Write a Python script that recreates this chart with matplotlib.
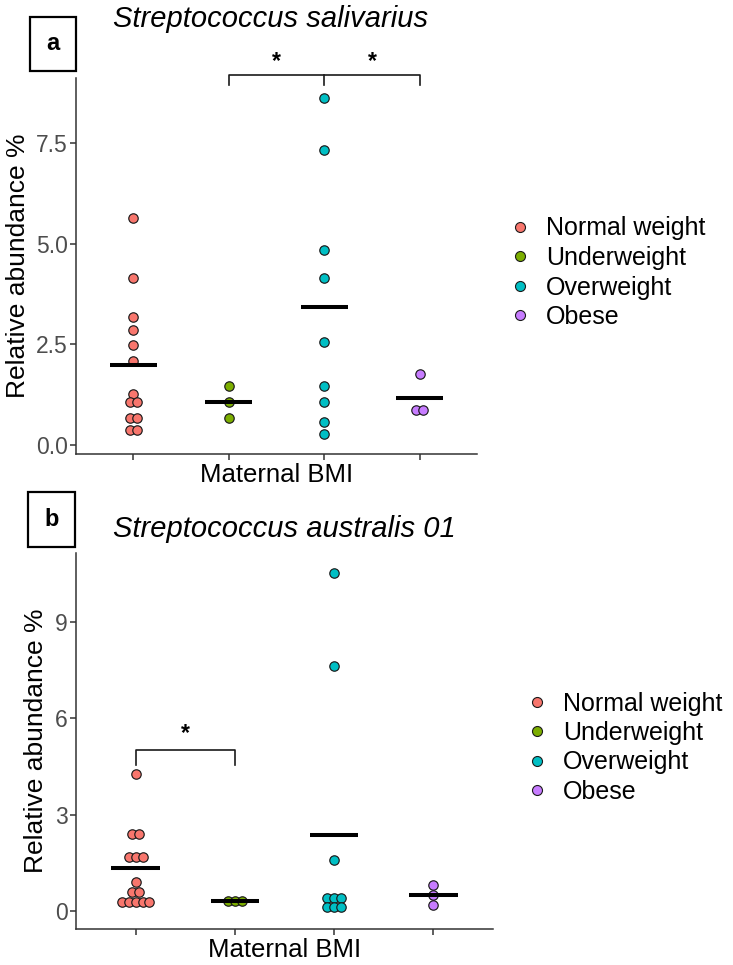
import matplotlib
matplotlib.use("Agg")
import matplotlib.pyplot as plt
from matplotlib.lines import Line2D
from matplotlib.patches import Rectangle
import numpy as np

plt.rcParams['font.family'] = ['Liberation Sans', 'DejaVu Sans']

W, H = 733, 965

groups = ["Normal weight", "Underweight", "Overweight", "Obese"]
colors = ["#F8766D", "#7CAE00", "#00BFC4", "#C77CFF"]

# panel a - Streptococcus salivarius (relative abundance %)
sal_normal = [5.65, 4.16, 3.17, 2.86, 2.48, 2.09, 1.27, 1.08, 1.08, 0.68, 0.68, 0.37, 0.37]
sal_under = [1.47, 1.08, 0.68]
sal_over = [8.62, 7.33, 4.85, 4.16, 2.56, 1.47, 1.08, 0.58, 0.28]
sal_obese = [1.77, 0.88, 0.88]
sal_means = [2.0, 1.08, 3.44, 1.18]
sal_ticks = [0, 2.5, 5, 7.5]
sal_ticklabels = ["0.0", "2.5", "5.0", "7.5"]

# panel b - Streptococcus australis 01
aus_normal = [4.27, 2.38, 2.38, 1.68, 1.68, 1.68, 0.88, 0.58, 0.58,
              0.28, 0.28, 0.28, 0.28, 0.28]
aus_under = [0.29, 0.29, 0.29]
aus_over = [10.53, 7.65, 1.58, 0.39, 0.39, 0.39, 0.11, 0.11, 0.11]
aus_obese = [0.79, 0.49, 0.19]
aus_means = [1.34, 0.31, 2.35, 0.48]
aus_ticks = [0, 3, 6, 9]
aus_ticklabels = ["0", "3", "6", "9"]


def swarm_x(vals, pos, step=0.07):
    # spread equal values side by side, like a beeswarm
    vals = np.asarray(vals, dtype=float)
    xs = np.full(len(vals), float(pos))
    for v in np.unique(vals):
        idx = np.where(np.isclose(vals, v))[0]
        xs[idx] = pos + (np.arange(len(idx)) - (len(idx) - 1) / 2) * step
    return xs


def draw_panel(ax, data, means, ylim, ticks, ticklabels, title, title_y):
    for i, (vals, col) in enumerate(zip(data, colors)):
        x = swarm_x(vals, i + 1)
        ax.scatter(x, vals, s=46, c=col, edgecolors="#1a1a1a", linewidths=0.85, zorder=3)
        ax.hlines(means[i], i + 1 - 0.245, i + 1 + 0.245, color="black", lw=2.9, zorder=4)
    ax.set_xlim(0.4, 4.6)
    ax.set_ylim(*ylim)
    ax.set_xticks([1, 2, 3, 4])
    ax.set_xticklabels([])
    ax.set_yticks(ticks)
    ax.set_yticklabels(ticklabels)
    for s in ["top", "right"]:
        ax.spines[s].set_visible(False)
    for s in ["left", "bottom"]:
        ax.spines[s].set_linewidth(1.1)
        ax.spines[s].set_color("#333333")
    ax.tick_params(length=4, width=1.1, color="#333333", labelcolor="#4D4D4D",
                   labelsize=16.5, pad=2)
    ax.set_xlabel("Maternal BMI", fontsize=18.5)
    ax.xaxis.set_label_coords(0.5, -0.025)
    ax.set_ylabel("Relative abundance %", fontsize=19, va="center", ha="center")
    ax.text(title[1], title_y, title[0], transform=ax.transAxes, fontsize=21,
            style="italic", ha="center", va="baseline")


def px_ax(left, top, right, bottom):
    return [left / W, 1 - bottom / H, (right - left) / W, (bottom - top) / H]


fig = plt.figure(figsize=(W / 100, H / 100), dpi=100)
ax1 = fig.add_axes(px_ax(76, 78, 477, 454))
ax2 = fig.add_axes(px_ax(76, 553, 493, 929))

draw_panel(ax1, [sal_normal, sal_under, sal_over, sal_obese], sal_means,
           (-0.224, 9.125), sal_ticks, sal_ticklabels,
           ("Streptococcus salivarius", 0.486), 1.135)
ax1.yaxis.set_label_coords(-0.144, 0.5)

draw_panel(ax2, [aus_normal, aus_under, aus_over, aus_obese], aus_means,
           (-0.571, 11.16), aus_ticks, aus_ticklabels,
           ("Streptococcus australis 01", 0.5), 1.043)
ax2.yaxis.set_label_coords(-0.096, 0.5)

# significance brackets
br = dict(color="#1a1a1a", lw=1.2, clip_on=False)
ax1.plot([2, 2, 4, 4], [8.96, 9.19, 9.19, 8.96], **br)
ax1.plot([3, 3], [9.19, 8.96], **br)
for xs in (2.5, 3.5):
    ax1.text(xs, 9.38, "*", ha="center", va="baseline", fontsize=16.5,
             fontweight="bold", clip_on=False)
ax2.plot([1, 1, 2, 2], [4.55, 5.02, 5.02, 4.55], **br)
ax2.text(1.5, 5.34, "*", ha="center", va="baseline", fontsize=16.5, fontweight="bold")

# panel letters
for lab, (l, t, r, b) in (("a", (30, 17, 76, 71)), ("b", (28, 492, 75, 547))):
    fig.add_artist(Rectangle((l / W, 1 - b / H), (r - l) / W, (b - t) / H,
                             transform=fig.transFigure, fill=False, lw=1.6, ec="black"))
    fig.text((l + r) / 2 / W, 1 - (t + b) / 2 / H, lab, ha="center", va="center",
             fontsize=17, fontweight="bold")

# legends
handles = [Line2D([], [], ls="", marker="o", markersize=7.2, markerfacecolor=c,
                  markeredgecolor="#1a1a1a", markeredgewidth=0.8) for c in colors]
for x0, ytop in ((510, 216.5), (527, 691.5)):
    fig.legend(handles, groups, loc="upper left", bbox_to_anchor=(x0 / W, 1 - ytop / H),
               frameon=False, fontsize=18, handlelength=0.8, handletextpad=0.64,
               labelspacing=0.22, borderpad=0, borderaxespad=0)

fig.savefig("out.png", dpi=100)
